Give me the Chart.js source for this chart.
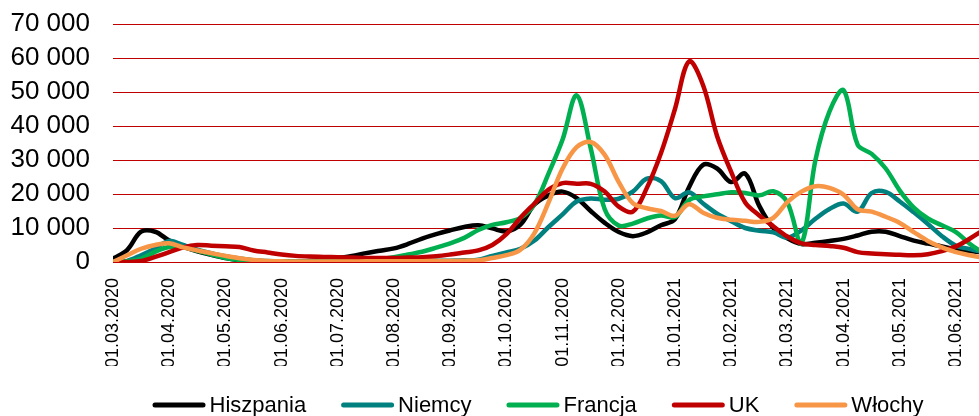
<!DOCTYPE html>
<html lang="pl">
<head>
<meta charset="utf-8">
<script src="https://cdn.jsdelivr.net/npm/chart.js@4.4.0/dist/chart.umd.min.js"></script>
<style>
  html, body { margin: 0; padding: 0; background: #fff; }
</style>
</head>
<body>
<canvas id="wykres" width="979" height="416"></canvas>
<script>
const etykietyOsi = ['01.03.2020', '01.04.2020', '01.05.2020', '01.06.2020', '01.07.2020', '01.08.2020',
    '01.09.2020', '01.10.2020', '01.11.2020', '01.12.2020', '01.01.2021', '01.02.2021', '01.03.2021',
    '01.04.2021', '01.05.2021', '01.06.2021'];

// polozenie probek w miesiacach od 01.03.2020
const miesiace = [0, 0.25, 0.5, 0.75, 1, 1.25, 1.5, 1.75, 2, 2.25, 2.5, 2.75, 3, 3.25, 3.5, 3.75,
    4, 4.25, 4.5, 4.75, 5, 5.25, 5.5, 5.75, 6, 6.25, 6.5, 6.75, 7, 7.25, 7.5, 7.75,
    8, 8.25, 8.5, 8.75, 9, 9.25, 9.5, 9.75, 10, 10.25, 10.5, 10.75, 11, 11.25, 11.5, 11.75,
    12, 12.25, 12.5, 12.75, 13, 13.25, 13.5, 13.75, 14, 14.25, 14.5, 14.75, 15, 15.25, 15.5];

const hiszpania = [1000, 3500, 8900, 8900, 6300, 4500, 3100, 2100, 1200, 500, 200, 100, 100, 100, 300, 700,
    1200, 1800, 2600, 3300, 4000, 5300, 6900, 8200, 9300, 10300, 10800, 9900, 9000, 11000, 16900, 19600,
    20700, 18800, 15000, 11500, 8800, 7600, 8700, 10800, 12600, 22000, 28600, 27500, 23500, 26000, 16500, 10000,
    7000, 5300, 5700, 6200, 6800, 7800, 8900, 8900, 7600, 6300, 5400, 4600, 3700, 3200, 2800];

const niemcy = [0, 300, 2000, 4000, 6200, 5000, 3600, 2600, 1700, 1000, 500, 300, 200, 200, 200, 200,
    200, 200, 200, 200, 200, 300, 300, 400, 400, 500, 700, 1800, 2800, 3900, 6300, 10300,
    14000, 17800, 18700, 18300, 18600, 20700, 24500, 23800, 18800, 20500, 17200, 14200, 12000, 10000, 9200, 8700,
    7200, 9300, 12700, 15600, 17200, 14800, 20300, 20600, 17800, 14600, 11200, 7600, 4800, 3800, 2800];

const francja = [0, 200, 1000, 3000, 4400, 4300, 3300, 2200, 1200, 600, 300, 200, 100, 100, 100, 100,
    200, 300, 400, 800, 1400, 2200, 3000, 4200, 5500, 7100, 9400, 10900, 11700, 13000, 17000, 26000,
    36000, 49000, 33500, 15500, 10700, 11300, 12800, 13700, 13200, 18200, 19300, 19900, 20500, 20300, 19600, 20800,
    17500, 5500, 30000, 44300, 50500, 34500, 31800, 27500, 21000, 16000, 12800, 10800, 8800, 5300, 2500];

const uk = [0, 0, 300, 1500, 2900, 4300, 5000, 4800, 4600, 4400, 3400, 2800, 2200, 1800, 1600, 1500,
    1400, 1300, 1200, 1200, 1200, 1300, 1400, 1700, 2200, 2800, 3400, 5000, 8200, 13000, 17200, 21300,
    23200, 23000, 23000, 20700, 16300, 14800, 21800, 32000, 45000, 59000, 52000, 37000, 26500, 17500, 13700, 10500,
    7500, 5500, 5000, 4700, 4200, 2900, 2500, 2300, 2100, 2000, 2300, 3200, 4600, 6900, 9500];

const wlochy = [0, 2000, 3900, 5000, 5500, 4300, 3400, 2600, 1800, 1100, 600, 300, 200, 150, 150, 150,
    150, 150, 200, 200, 200, 200, 250, 300, 300, 400, 500, 1200, 2000, 3600, 8500, 17500,
    27500, 33800, 35300, 31500, 23500, 17300, 15800, 15000, 13600, 17000, 14500, 13000, 12400, 12100, 11800, 13000,
    17600, 20700, 22300, 21800, 19800, 15500, 14800, 13300, 11500, 8800, 6200, 4300, 2900, 2000, 1200];

const kraje = ['Hiszpania', 'Niemcy', 'Francja', 'UK', 'Włochy'];
const kolory = ['#000000', '#00807F', '#00B050', '#C00000', '#F79646'];
const serie = [hiszpania, niemcy, francja, uk, wlochy];

function punkty(wartosci) {
    return wartosci.map((v, i) => ({ x: miesiace[i], y: v }));
}

function tysiace(v) {
    return String(v).replace(/\B(?=(\d{3})+(?!\d))/g, ' ');
}

// legenda rysowana recznie: linia + tekst, wysrodkowana pod wykresem
const legendaLinii = {
    id: 'legendaLinii',
    afterDraw(chart) {
        const ctx = chart.ctx;
        ctx.save();
        ctx.font = '22px "Liberation Sans", Arial, sans-serif';
        ctx.textBaseline = 'middle';
        const dl = 53, odstep = 4, przerwa = 35, y = 405;
        const szer = kraje.map(k => ctx.measureText(k).width);
        const suma = szer.reduce((a, b) => a + b, 0) + kraje.length * (dl + odstep) + (kraje.length - 1) * przerwa;
        let x = 538 - suma / 2;
        kraje.forEach((k, i) => {
            ctx.strokeStyle = kolory[i];
            ctx.lineWidth = 5;
            ctx.lineCap = 'round';
            ctx.beginPath();
            ctx.moveTo(x + 2.5, y);
            ctx.lineTo(x + dl - 2.5, y);
            ctx.stroke();
            ctx.fillStyle = '#000';
            ctx.fillText(k, x + dl + odstep, y + 1);
            x += dl + odstep + szer[i] + przerwa;
        });
        ctx.restore();
    }
};

new Chart(document.getElementById('wykres'), {
    type: 'line',
    data: {
        datasets: kraje.map((k, i) => ({
            label: k,
            data: punkty(serie[i]),
            borderColor: kolory[i],
            backgroundColor: kolory[i],
            borderWidth: 4.5,
            borderCapStyle: 'round',
            borderJoinStyle: 'round',
            pointRadius: 0,
            tension: 0.35,
            fill: false,
            order: kraje.length - i,
        })),
    },
    options: {
        responsive: false,
        animation: false,
        devicePixelRatio: 1,
        layout: { padding: { top: 24, left: 0, right: 0, bottom: 50 } },
        plugins: {
            legend: { display: false },
            tooltip: { enabled: false },
        },
        scales: {
            x: {
                type: 'linear',
                min: 0,
                max: 15.41,
                grid: { display: false, drawTicks: false },
                border: { display: false },
                ticks: {
                    stepSize: 1,
                    includeBounds: false,
                    autoSkip: false,
                    minRotation: 90,
                    maxRotation: 90,
                    padding: 16,
                    color: '#000',
                    font: { family: '"Liberation Sans", Arial, sans-serif', size: 18 },
                    callback: v => Number.isInteger(v) ? etykietyOsi[v] : '',
                },
                afterFit(s) {
                    s.height = 104;
                    s.paddingLeft = 0;
                    s.paddingRight = 0;
                },
            },
            y: {
                min: 0,
                max: 70000,
                grid: { color: '#C00000', lineWidth: 1, drawTicks: true, tickLength: 23, tickColor: 'rgba(0,0,0,0)' },
                border: { display: false },
                ticks: {
                    stepSize: 10000,
                    autoSkip: false,
                    padding: 0,
                    color: '#000',
                    font: { family: '"Liberation Sans", Arial, sans-serif', size: 26 },
                    callback: v => tysiace(v),
                },
                afterFit(s) { s.width = 113; },
            },
        },
    },
    plugins: [legendaLinii],
});
</script>
</body>
</html>
